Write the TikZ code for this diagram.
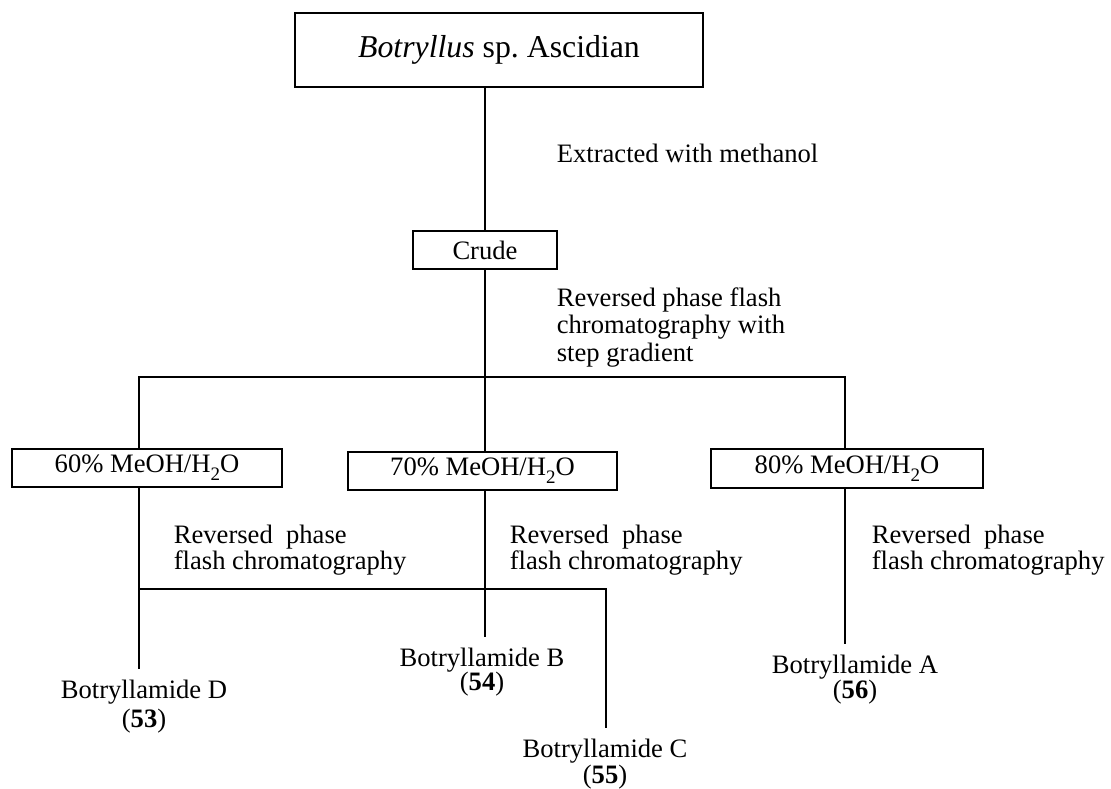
\documentclass[tikz,border=0pt]{standalone}
\usepackage{fontspec}
\setmainfont{Liberation Serif}
% subscript digit set a little larger and lower than \textsubscript
\newcommand{\lowsub}[1]{\raisebox{-0.3em}{\fontsize{19}{19}\selectfont #1}}
\begin{document}
\begin{tikzpicture}[x=1pt,y=-1pt,
  line width=1.7pt,
  every node/.style={font=\fontsize{26.6}{27.5}\selectfont},
  stagebox/.style={draw,line width=1.8pt,inner sep=0pt,outer sep=0pt},
  steplabel/.style={inner sep=0pt,align=left,anchor=north west},
  product/.style={inner sep=11pt,outer sep=0pt,anchor=base},
  cmpd/.style={inner sep=0pt,anchor=base}]
\useasboundingbox (0,0) rectangle (1111,789);

% source organism and crude extract
\node[stagebox,minimum width=408pt,minimum height=74pt,
      font=\fontsize{31.8}{33}\selectfont] (src) at (499,50)
      {\textit{Botryllus} sp.\ Ascidian};
\node[stagebox,minimum width=144pt,minimum height=38pt] (crude) at (485,250) {Crude};
\node[anchor=base west,inner sep=0pt] (ext) at (556,163) {Extracted with methanol};
\node[steplabel] (rpf) at (556,286.8)
      {Reversed phase flash\\chromatography with\\step gradient};

% step-gradient fractions
\node[stagebox,minimum width=270pt,minimum height=38pt] (f60) at (147,468) {60\% MeOH/H\lowsub{2}O};
\node[stagebox,minimum width=269pt,minimum height=38pt] (f70) at (482.5,471) {70\% MeOH/H\lowsub{2}O};
\node[stagebox,minimum width=272pt,minimum height=39pt] (f80) at (847,468.5) {80\% MeOH/H\lowsub{2}O};

\tikzset{every node/.style={font=\fontsize{26.6}{26.5}\selectfont}}
\node[steplabel] (rp60) at (173,523.8) {Reversed~~phase\\flash chromatography};
\node[steplabel] (rp70) at (509,523.8) {Reversed~~phase\\flash chromatography};
\node[steplabel] (rp80) at (871,523.8) {Reversed~~phase\\flash chromatography};

% isolated compounds
\node[product] (pD) at (144,698) {Botryllamide D};
\node[cmpd] (nD) at (144,727) {(\textbf{53})};
\node[product] (pB) at (482,666) {Botryllamide B};
\node[cmpd] (nB) at (482,690) {(\textbf{54})};
\node[product] (pC) at (605,757) {Botryllamide C};
\node[cmpd] (nC) at (605,783) {(\textbf{55})};
\node[product] (pA) at (855,673) {Botryllamide A};
\node[cmpd] (nA) at (855,698) {(\textbf{56})};

% branch points
\coordinate (busL) at (139,377);
\coordinate (busR) at (845,377);
\coordinate (sepL) at (139,589);
\coordinate (sepR) at (606,589);

% connectors
\draw (src.south -| crude.north) -- (crude.north);
\draw (crude.south) -- (crude.south |- f70.north);
\draw (busL |- f60.north) -- (busL) -- (busR) -- (busR |- f80.north);
\draw (sepL |- f60.south) -- (sepL |- pD.north);
\draw (sepL) -- (sepR) -- (sepR |- pC.north);
\draw (crude.south |- f70.south) -- (crude.south |- pB.north);
\draw (busR |- f80.south) -- (busR |- pA.north);
\end{tikzpicture}
\end{document}
